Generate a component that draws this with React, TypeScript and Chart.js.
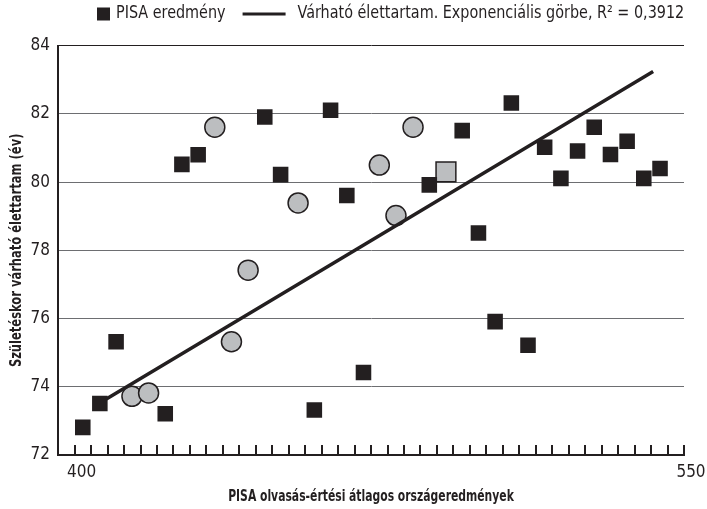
import React, { useEffect, useRef } from 'react';
import { Chart, registerables } from 'chart.js';

Chart.register(...registerables);

// PISA result (black squares)
const pisaX = [402.0, 406.2, 410.2, 422.3, 426.4, 430.4, 446.8, 450.7, 463.0, 467.0, 459.0, 471.1, 487.3, 495.4, 499.4, 503.5, 511.6, 507.5, 515.7, 519.7, 523.8, 527.9, 531.9, 536.0, 540.1, 544.1];
const pisaY = [72.81, 73.51, 75.32, 73.21, 80.52, 80.8, 81.91, 80.22, 82.11, 79.61, 73.32, 74.42, 79.92, 81.51, 78.51, 75.91, 75.22, 82.32, 81.02, 80.11, 80.91, 81.61, 80.81, 81.2, 80.11, 80.4];
// grey circles
const circleX = [414.1, 418.2, 438.6, 442.7, 434.5, 455.0, 475.0, 479.1, 483.3];
const circleY = [73.72, 73.82, 75.32, 77.42, 81.61, 79.39, 80.5, 79.02, 81.61];
// highlighted grey square
const highlightX = [491.4];
const highlightY = [80.3];
// exponential trend line
const trendX = [407.8, 469.0, 542.4];
const trendY = [73.64, 78.0, 83.24];

const yTicks = [72, 74, 76, 78, 80, 82, 84];
const xTickLabels = [400, 550];
const xMinorCount = 37;

const legendLabels = ['PISA eredmény', 'Várható élettartam. Exponenciális görbe, R² = 0,3912'];
const xTitle = 'PISA olvasás-értési átlagos országeredmények';
const yTitle = 'Születéskor várható élettartam (év)';

const FONT = "'Liberation Sans Narrow', 'DejaVu Sans Condensed', 'Arial Narrow', sans-serif";
const INK = '#231f20';
const GREY = '#bcbec0';
const CONDENSE = 0.8;

const toPts = (xs: number[], ys: number[]) => xs.map((x, i) => ({ x, y: ys[i] }));

const textPlugin = {
  id: 'customText',
  afterDraw(chart: any) {
    const ctx = chart.ctx as CanvasRenderingContext2D;
    const area = chart.chartArea;
    ctx.save();
    ctx.fillStyle = INK;
    ctx.strokeStyle = INK;
    ctx.textBaseline = 'middle';

    // legend
    ctx.font = `17px ${FONT}`;
    const ls = 0.94;
    const cy = 14;
    let x = 97;
    ctx.fillRect(x, cy - 6.5, 13, 13);
    x += 13 + 6;
    ctx.save();
    ctx.translate(x, cy);
    ctx.scale(ls, 1);
    ctx.fillText(legendLabels[0], 0, 0);
    ctx.restore();
    x += ctx.measureText(legendLabels[0]).width * ls + 17;
    ctx.lineWidth = 3;
    ctx.beginPath();
    ctx.moveTo(x, cy);
    ctx.lineTo(x + 43, cy);
    ctx.stroke();
    x += 43 + 12;
    ctx.save();
    ctx.translate(x, cy);
    ctx.scale(ls, 1);
    ctx.fillText(legendLabels[1], 0, 0);
    ctx.restore();

    // x title
    ctx.textAlign = 'center';
    ctx.font = `bold 15px ${FONT}`;
    ctx.save();
    ctx.translate((area.left + area.right) / 2, 497);
    ctx.scale(CONDENSE, 1);
    ctx.fillText(xTitle, 0, 0);
    ctx.restore();

    // y title
    ctx.font = `bold 16px ${FONT}`;
    ctx.save();
    ctx.translate(17, (area.top + area.bottom) / 2);
    ctx.rotate(-Math.PI / 2);
    ctx.scale(CONDENSE, 1);
    ctx.fillText(yTitle, 0, 0);
    ctx.restore();

    ctx.restore();
  },
};

export default function App() {
  const ref = useRef<HTMLCanvasElement | null>(null);

  useEffect(() => {
    document.body.style.margin = '0';
    if (!ref.current) return;
    const chart = new Chart(ref.current, {
      type: 'scatter',
      data: {
        datasets: [
          {
            type: 'line',
            label: legendLabels[1],
            data: toPts(trendX, trendY),
            borderColor: INK,
            borderWidth: 3.5,
            pointRadius: 0,
            fill: false,
            tension: 0,
          } as any,
          {
            label: legendLabels[0],
            data: toPts(pisaX, pisaY),
            pointStyle: 'rect',
            pointRadius: 11,
            backgroundColor: INK,
            borderColor: INK,
            borderWidth: 0,
          },
          {
            label: 'highlight',
            data: toPts(highlightX, highlightY),
            pointStyle: 'rect',
            pointRadius: 14,
            backgroundColor: GREY,
            borderColor: INK,
            borderWidth: 1.5,
          },
          {
            label: 'circles',
            data: toPts(circleX, circleY),
            pointStyle: 'circle',
            pointRadius: 10,
            backgroundColor: GREY,
            borderColor: INK,
            borderWidth: 1.5,
          },
        ],
      },
      options: {
        animation: false,
        responsive: false,
        layout: { padding: { top: 45.7, right: 23, left: 0, bottom: 0 } },
        plugins: {
          legend: { display: false },
          tooltip: { enabled: false },
        },
        scales: {
          x: {
            type: 'linear',
            min: 395.9,
            max: 550,
            afterBuildTicks: (scale: any) => {
              const lo = xTickLabels[0];
              const hi = xTickLabels[xTickLabels.length - 1];
              scale.ticks = Array.from({ length: xMinorCount + 1 }, (_, k) => ({ value: lo + (k * (hi - lo)) / xMinorCount }));
            },
            afterFit: (scale: any) => {
              scale.height = 54;
              scale.paddingLeft = 0;
              scale.paddingRight = 0;
            },
            ticks: {
              autoSkip: false,
              maxRotation: 0,
              padding: 17,
              labelOffset: 7,
              color: INK,
              font: { family: FONT, size: 17 },
              callback: (value: any) => {
                const hit = xTickLabels.find((t) => Math.abs(t - Number(value)) < 0.01);
                return hit !== undefined ? String(hit) : '';
              },
            },
            grid: {
              display: true,
              drawOnChartArea: false,
              drawTicks: true,
              tickLength: -10,
              color: INK,
              lineWidth: 2,
            },
            border: { display: true, color: INK, width: 2 },
            title: { display: false },
          },
          y: {
            type: 'linear',
            min: 72,
            max: 84,
            afterBuildTicks: (scale: any) => {
              scale.ticks = yTicks.map((v) => ({ value: v }));
            },
            afterFit: (scale: any) => {
              scale.width = 58;
            },
            ticks: {
              padding: 8,
              color: INK,
              font: { family: FONT, size: 17 },
            },
            grid: {
              drawTicks: false,
              color: (c: any) => (c.tick && c.tick.value === 84 ? INK : c.tick && c.tick.value === 72 ? 'rgba(0,0,0,0)' : '#6d6e71'),
              lineWidth: 1,
            },
            border: { display: true, color: INK, width: 2 },
            title: { display: false },
          },
        },
      },
      plugins: [textPlugin],
    });
    return () => chart.destroy();
  }, []);

  return (
    <div style={{ width: 707, height: 509, background: '#fff' }}>
      <canvas ref={ref} width={707} height={509} style={{ display: 'block' }} />
    </div>
  );
}
